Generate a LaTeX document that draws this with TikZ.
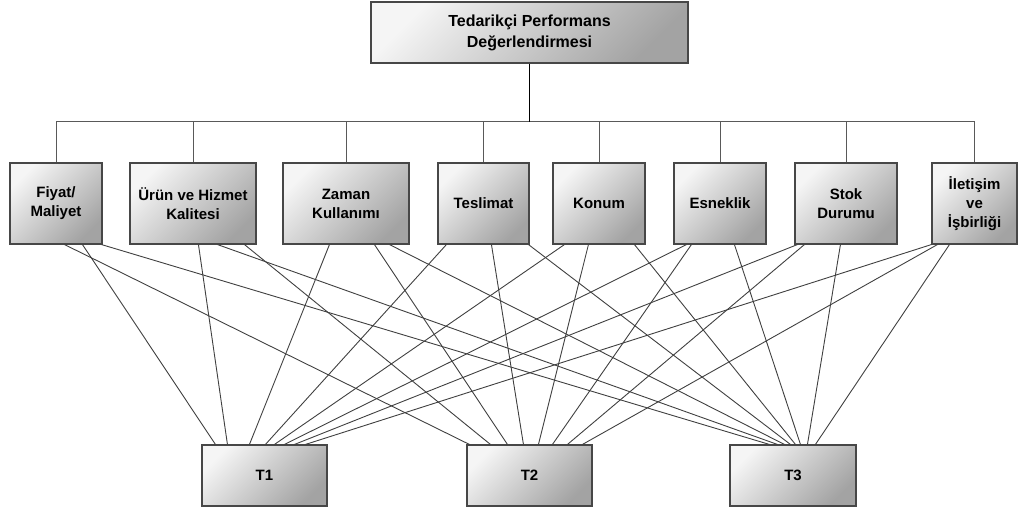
\documentclass[tikz,border=0pt]{standalone}
\usepackage{fontspec}
\setmainfont{Liberation Sans}
\begin{document}
\begin{tikzpicture}[x=1pt,y=-1pt,
  gbox/.style={draw=black!72, line width=1.1pt, top color=black!4, bottom color=black!36, shading angle=45,
    align=center, inner sep=0pt, font=\bfseries\fontsize{15}{19}\selectfont},
  link/.style={draw=black!75, line width=0.9pt},
  busline/.style={draw=black!65, line width=1pt},
  trunk/.style={draw=black, line width=1.6pt}]
\useasboundingbox (0,0) rectangle (1018,510);
% top
\node[gbox, minimum width=317pt, minimum height=61pt, font=\bfseries\fontsize{16}{21}\selectfont] (top) at (529.5,32.5) {Tedarikçi Performans\\Değerlendirmesi};
% criteria
\node[gbox, minimum width=92pt, minimum height=81pt] (c1) at (56,203.5) {Fiyat/\\Maliyet};
\node[gbox, minimum width=126pt, minimum height=81pt] (c2) at (193,203.5) {Ürün ve Hizmet\\Kalitesi};
\node[gbox, minimum width=126pt, minimum height=81pt] (c3) at (346,203.5) {Zaman\\Kullanımı};
\node[gbox, minimum width=91pt, minimum height=81pt] (c4) at (483.5,203.5) {Teslimat};
\node[gbox, minimum width=92pt, minimum height=81pt] (c5) at (599,203.5) {Konum};
\node[gbox, minimum width=92pt, minimum height=81pt] (c6) at (720,203.5) {Esneklik};
\node[gbox, minimum width=102pt, minimum height=81pt] (c7) at (846,203.5) {Stok\\Durumu};
\node[gbox, minimum width=85pt, minimum height=81pt] (c8) at (974.5,203.5) {İletişim\\ve\\İşbirliği};
% alternatives
\node[gbox, minimum width=125pt, minimum height=61pt] (t1) at (264.5,475.5) {T1};
\node[gbox, minimum width=125pt, minimum height=61pt] (t2) at (529.5,475.5) {T2};
\node[gbox, minimum width=126pt, minimum height=61pt] (t3) at (793,475.5) {T3};
% tree connectors
\coordinate (bj) at (529.5,122);
\draw[busline] (c1.north |- bj) -- (c8.north |- bj);
\foreach \c in {c1,c2,c3,c4,c5,c6,c7,c8}
  \draw[busline] (\c.north) -- (\c.north |- bj);
\draw[trunk] (top.south) -- (bj);
% links
\foreach \c/\a/\t/\b in {
  c1/73/t1/14, c1/55/t2/3, c1/92/t3/40,
  c2/69/t1/26, c2/115/t2/24, c2/88/t3/48,
  c3/47/t1/48, c3/92/t2/41, c3/107/t3/55,
  c4/9/t1/64, c4/54/t2/57, c4/91/t3/61,
  c5/12/t1/73, c5/36/t2/72, c5/82/t3/66,
  c6/13/t1/83, c6/18/t2/86, c6/61/t3/71,
  c7/3/t1/93, c7/10/t2/101, c7/46/t3/78,
  c8/0/t1/104, c8/6/t2/116, c8/18/t3/86}
  \draw[link] ([xshift=\a pt]\c.south west) -- ([xshift=\b pt]\t.north west);
\end{tikzpicture}
\end{document}
